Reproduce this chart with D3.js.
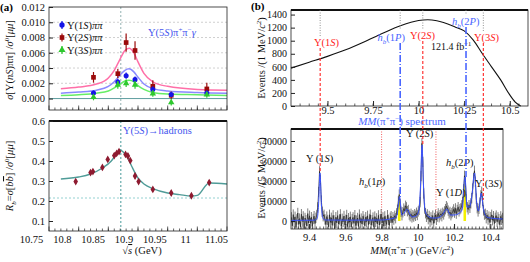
<!DOCTYPE html>
<html>
<head>
<meta charset="utf-8">
<script src="https://cdn.jsdelivr.net/npm/d3@7"></script>
<style>
  body { margin: 0; background: #fff; }
  text { font-family: "Liberation Serif", "DejaVu Serif", serif; }
</style>
</head>
<body>
<svg id="chart" width="530" height="262"></svg>
<script>
// ---- panel (a), top : sigma[Y(nS)pipi] / sigma0[mumu]
var scanE  = [10.825, 10.866, 10.880, 10.895, 10.925, 10.956, 11.016];
var sig1S  = [0.00074, 0.00217, 0.0030, 0.00248, 0.0012, 0.00052, 0.00074];
var err1S  = [0.0003, 0.0004, 0.0004, 0.0004, 0.0004, 0.0003, 0.0003];
var sig2S  = [0.00278, 0.00326, 0.00734, 0.0063, 0.0016, 0.00043, 0.00126];
var err2S  = [0.0007, 0.0006, 0.0012, 0.0012, 0.0008, 0.0005, 0.0008];
var sig3S  = [0.00017, 0.0018, 0.0020, 0.0018, 0.00065, -0.0005, 0.0005];
var err3S  = [0.0004, 0.0005, 0.0005, 0.0005, 0.0004, 0.0004, 0.0004];

var fitE   = [10.77, 10.80, 10.83, 10.85, 10.86, 10.87, 10.878, 10.885, 10.893, 10.90, 10.91, 10.925, 10.95, 11.0, 11.05];
var fit1S  = [0.0007, 0.00085, 0.0011, 0.0016, 0.0022, 0.0031, 0.0037, 0.0039, 0.0035, 0.0028, 0.0019, 0.0013, 0.0010, 0.0008, 0.0007];
var fit2S  = [0.0013, 0.0015, 0.0019, 0.0027, 0.0037, 0.0052, 0.0063, 0.0066, 0.0060, 0.0048, 0.0033, 0.0022, 0.0016, 0.0012, 0.0011];
var fit3S  = [0.0004, 0.0005, 0.0007, 0.0010, 0.0014, 0.0019, 0.0023, 0.0024, 0.0022, 0.0017, 0.0012, 0.0008, 0.0006, 0.0005, 0.0004];

// ---- panel (a), bottom : R_b
var rbE    = [10.795, 10.820, 10.824, 10.840, 10.849, 10.860, 10.864, 10.868, 10.879, 10.883, 10.887, 10.895, 10.901, 10.925, 10.956, 10.990, 11.020];
var rbVal  = [0.297, 0.342, 0.347, 0.368, 0.408, 0.427, 0.438, 0.447, 0.433, 0.425, 0.402, 0.325, 0.297, 0.258, 0.240, 0.226, 0.292];
var rbFitE = [10.77, 10.80, 10.82, 10.84, 10.855, 10.865, 10.870, 10.875, 10.883, 10.89, 10.90, 10.91, 10.925, 10.95, 10.97, 10.99, 11.0, 11.02, 11.05];
var rbFit  = [0.310, 0.320, 0.335, 0.365, 0.400, 0.440, 0.455, 0.445, 0.415, 0.370, 0.315, 0.285, 0.262, 0.240, 0.232, 0.225, 0.228, 0.290, 0.285];
var rbRef  = 0.215;
var peak5S = 10.871;

var aTicksX   = [10.75, 10.8, 10.85, 10.9, 10.95, 11, 11.05];
var aTicksTop = [0, 0.002, 0.004, 0.006, 0.008, 0.010, 0.012];
var aTicksBot = [0.1, 0.2, 0.3, 0.4, 0.5, 0.6];

// ---- panel (b), top : events / 1 MeV curve
var effM = [9.30, 9.40, 9.50, 9.60, 9.70, 9.80, 9.90, 10.00, 10.05, 10.10, 10.20, 10.25, 10.30, 10.35, 10.40, 10.45, 10.50, 10.53, 10.56];
var effN = [580, 670, 760, 860, 980, 1110, 1230, 1310, 1320, 1305, 1210, 1150, 1010, 800, 600, 400, 170, 60, 0];

// ---- panel (b), bottom : MM(pi+pi-) spectrum, 5 MeV bins from 9.30, in thousands
var binLo = 9.30, binW = 0.005, binErr = 2.6;
var spec = [
  1.8,-2.4,3.2,-0.6,2.1,-3.3,0.8,4.0,-1.7,1.2,-2.9,3.4,-0.2,2.3,-3.8,1.5,0.4,-2.5,3.7,-1.0,2.6,-1.1,1.9,-2.7,1.0,2.4,-1.3,1.6,
  3.0,6.8,14.5,24.8,20.5,10.2,4.6,2.4,3.1,0.8,
  -1.8,2.2,0.5,-2.9,3.1,-0.7,1.6,-2.2,2.8,0.3,-3.4,1.9,-0.9,2.7,-1.5,0.8,3.3,-2.6,1.1,-0.4,
  2.5,-1.9,0.6,3.0,-2.8,1.4,-0.6,2.1,-3.1,0.9,1.8,-1.2,2.9,-2.3,0.2,1.5,-2.7,3.2,-0.8,1.2,
  -1.6,2.4,0.7,-2.4,1.9,-0.3,2.6,-1.8,1.0,3.1,-2.1,0.4,1.7,-2.9,2.2,-0.5,1.3,-1.4,2.8,-2.0,
  0.9,3.4,-1.1,1.8,-2.6,2.3,0.1,-1.7,2.9,0.6,-2.2,1.6,2.4,-0.9,1.9,0.7,2.6,1.4,
  3.8,5.6,9.8,13.2,8.4,4.6,
  2.9,4.4,6.2,5.1,7.6,6.8,4.9,5.5,3.2,2.4,3.6,1.8,2.9,2.2,3.4,2.6,4.1,3.0,4.8,5.6,
  9.4,22.5,38.8,29.5,13.8,6.2,3.9,
  2.1,3.3,0.9,2.5,-0.6,1.8,0.4,2.7,-1.2,1.5,
  3.0,0.6,2.2,3.8,1.9,2.9,3.6,2.4,4.1,3.3,
  4.8,5.9,7.4,6.6,5.2,3.8,4.5,2.9,3.9,4.6,
  5.8,4.2,6.3,3.7,5.5,6.9,4.8,5.9,6.4,7.8,
  9.5,15.8,22.6,19.4,10.8,6.9,5.8,7.9,6.6,8.8,11.4,16.2,21.5,25.1,19.6,11.2,6.4,4.8,6.1,9.2,
  12.8,14.6,10.1,5.3,3.2,
  3.6,1.4,2.9,0.7,2.2,-0.8,1.9,3.1,0.4,2.4,-1.3,1.6,2.7,-0.4,1.8,0.9,-1.9,2.3,0.6,1.5
];
var fitM = [9.30, 9.43, 9.445, 9.452, 9.46, 9.468, 9.475, 9.49, 9.60, 9.80, 9.87, 9.885, 9.899, 9.912, 9.925, 9.94, 9.955, 9.97, 9.99, 10.005, 10.015, 10.023, 10.031, 10.04, 10.055, 10.08, 10.10, 10.13, 10.16, 10.18, 10.20, 10.23, 10.245, 10.26, 10.272, 10.285, 10.30, 10.313, 10.325, 10.335, 10.35, 10.362, 10.38, 10.40, 10.47];
var fitN = [0.3, 0.4, 1.5, 8, 24, 8, 1.5, 0.5, 0.4, 0.5, 1.5, 3, 12, 3, 4, 6, 3.5, 2, 2.5, 5, 18, 38, 18, 5, 2.5, 1.5, 1.5, 2.5, 6, 3, 3, 4, 6, 22, 7, 7, 14, 24, 9, 5, 14, 6, 2, 1.5, 1];
var hbBands = [[9.890, 9.905], [10.252, 10.266]];

// states marked on panel (b)
var states = [
  { name: "Y1S",  m: 9.460,  kind: "Y" },
  { name: "hb1P", m: 9.899,  kind: "h" },
  { name: "Y2S",  m: 10.023, kind: "Y" },
  { name: "hb2P", m: 10.260, kind: "h" },
  { name: "Y3S",  m: 10.355, kind: "Y" }
];
var dotLines = [9.80, 10.10];

var bTicksTopX = [9.5, 9.75, 10, 10.25, 10.5];
var bTicksTopY = [0, 200, 400, 600, 800, 1000, 1200, 1400];
var bTicksBotX = [9.4, 9.6, 9.8, 10, 10.2, 10.4];
var bTicksBotY = [0, 10000, 20000, 30000, 40000];

// ------------------------------------------------------------------
var svg = d3.select("#chart");
var frameCol = "#222";

var xa   = d3.scaleLinear().domain([10.75, 11.05]).range([49, 227]);
var xaLab = d3.scaleLinear().domain([10.75, 11.05]).range([31, 216]);  // labels sit left of the frame in the original
var yTop = d3.scaleLinear().domain([-0.0015, 0.012]).range([110, 7]);
var yBot = d3.scaleLinear().domain([0.05, 0.6]).range([231, 121]);

var xbT = d3.scaleLinear().domain([9.3, 10.6]).range([291, 528]);
var ybT = d3.scaleLinear().domain([0, 1470]).range([106, 10]);
var xbB = d3.scaleLinear().domain([9.3, 10.47]).range([291, 503]);
var ybB = d3.scaleLinear().domain([-4, 46]).range([229, 129]);   // thousands

svg.append("defs").append("clipPath").attr("id", "clipD")
  .append("rect").attr("x", 291).attr("y", 129).attr("width", 212).attr("height", 100);

function frame(g, x0, x1, y0, y1, thickTop) {
  g.append("rect").attr("x", x0).attr("y", y0).attr("width", x1 - x0).attr("height", y1 - y0)
    .attr("fill", "none").attr("stroke", frameCol).attr("stroke-width", 0.8);
  if (thickTop) {
    g.append("line").attr("x1", x0).attr("x2", x1).attr("y1", y0).attr("y2", y0)
      .attr("stroke", "#111").attr("stroke-width", 2);
  }
}

function minorX(g, scale, lo, hi, step, y, len) {
  d3.range(lo, hi + step / 2, step).forEach(function(v) {
    g.append("line").attr("x1", scale(v)).attr("x2", scale(v))
      .attr("y1", y).attr("y2", y - len).attr("stroke", frameCol).attr("stroke-width", 0.7);
  });
}

function yAxis(g, scale, x, ticks, fmt, size) {
  var ax = g.append("g").attr("transform", "translate(" + x + ",0)")
    .call(d3.axisLeft(scale).tickValues(ticks).tickFormat(fmt).tickSize(-4).tickPadding(4));
  ax.select(".domain").remove();
  ax.selectAll("line").attr("stroke", frameCol);
  ax.selectAll("text").style("font-size", size + "px").attr("fill", "#111");
}

function xAxisLabels(g, scale, y, ticks, fmt, size, pad) {
  var ax = g.append("g").attr("transform", "translate(0," + y + ")")
    .call(d3.axisBottom(scale).tickValues(ticks).tickFormat(fmt).tickSize(-5).tickPadding(pad));
  ax.select(".domain").remove();
  ax.selectAll("line").attr("stroke", frameCol);
  ax.selectAll("text").style("font-size", size + "px").attr("fill", "#111");
  return ax;
}

// ================= panel (a) top =================
var gA = svg.append("g");

aTicksTop.slice(1, 6).forEach(function(v) {
  gA.append("line").attr("x1", xa.range()[0]).attr("x2", xa.range()[1])
    .attr("y1", yTop(v)).attr("y2", yTop(v))
    .attr("stroke", "#bbb").attr("stroke-width", 0.7).attr("stroke-dasharray", "2,2");
});
gA.append("line").attr("x1", xa(peak5S)).attr("x2", xa(peak5S)).attr("y1", yTop.range()[1]).attr("y2", yTop.range()[0])
  .attr("stroke", "#8aa").attr("stroke-width", 0.9).attr("stroke-dasharray", "2,2");
gA.append("line").attr("x1", xa.range()[0]).attr("x2", xa.range()[1]).attr("y1", yTop(0)).attr("y2", yTop(0))
  .attr("stroke", "#5f9ea0").attr("stroke-width", 1);

var fitLine = d3.line().curve(d3.curveMonotoneX);
[[fit2S, "#ff6fa8"], [fit1S, "#8a8aff"], [fit3S, "#66ee66"]].forEach(function(f) {
  gA.append("path")
    .attr("d", fitLine(fitE.map(function(e, i) { return [xa(e), yTop(f[0][i])]; })))
    .attr("fill", "none").attr("stroke", f[1]).attr("stroke-width", 1.5);
});

var sets = [
  { v: sig2S, e: err2S, col: "#9b0a0a", sym: d3.symbolSquare, size: 22 },
  { v: sig1S, e: err1S, col: "#1414e6", sym: d3.symbolCircle, size: 20 },
  { v: sig3S, e: err3S, col: "#2ec82e", sym: d3.symbolTriangle, size: 18 }
];
sets.forEach(function(s) {
  scanE.forEach(function(E, i) {
    gA.append("line").attr("x1", xa(E)).attr("x2", xa(E))
      .attr("y1", yTop(s.v[i] - s.e[i])).attr("y2", yTop(s.v[i] + s.e[i]))
      .attr("stroke", s.col).attr("stroke-width", 1.2);
    gA.append("path").attr("d", d3.symbol().type(s.sym).size(s.size)())
      .attr("transform", "translate(" + xa(E) + "," + yTop(s.v[i]) + ")")
      .attr("fill", s.col);
  });
});

frame(gA, 49, 227, 7, 110, false);
yAxis(gA, yTop, 49, aTicksTop, d3.format(".3f"), 10.5);
minorX(gA, xa, 10.76, 11.04, 0.01, 110, 2.5);
minorX(gA, xa, 10.75, 11.05, 0.05, 110, 4.5);

// legend
var legend = [
  { t: "1", col: "#1414e6", sym: d3.symbolCircle },
  { t: "2", col: "#9b0a0a", sym: d3.symbolSquare },
  { t: "3", col: "#2ec82e", sym: d3.symbolTriangle }
];
legend.forEach(function(l, i) {
  var ly = 25 + i * 12.5;
  gA.append("line").attr("x1", 62).attr("x2", 62).attr("y1", ly - 4).attr("y2", ly + 4)
    .attr("stroke", l.col).attr("stroke-width", 1.2);
  gA.append("path").attr("d", d3.symbol().type(l.sym).size(22)())
    .attr("transform", "translate(62," + ly + ")").attr("fill", l.col);
  var t = gA.append("text").attr("x", 67).attr("y", ly + 3.5).style("font-size", "10.5px").attr("fill", "#111");
  t.append("tspan").text("Υ(" + l.t);
  t.append("tspan").style("font-style", "italic").text("S");
  t.append("tspan").text(")");
  t.append("tspan").style("font-style", "italic").text("ππ");
});

var t5 = gA.append("text").attr("x", 148).attr("y", 36).style("font-size", "10.5px").attr("fill", "#4455ee");
t5.append("tspan").text("Υ(5");
t5.append("tspan").style("font-style", "italic").text("S");
t5.append("tspan").text(")π");
t5.append("tspan").attr("dy", -4).style("font-size", "7px").text("+");
t5.append("tspan").attr("dy", 4).text("π");
t5.append("tspan").attr("dy", -4).style("font-size", "7px").text("−");
t5.append("tspan").attr("dy", 4).style("font-style", "italic").text("γ");

var yt1 = gA.append("text").attr("transform", "translate(13,60) rotate(-90)")
  .attr("text-anchor", "middle").style("font-size", "10.5px").attr("fill", "#111");
yt1.append("tspan").style("font-style", "italic").text("σ");
yt1.append("tspan").text("[Υ(");
yt1.append("tspan").style("font-style", "italic").text("nS");
yt1.append("tspan").text(")ππ] /");
yt1.append("tspan").style("font-style", "italic").text("σ");
yt1.append("tspan").attr("dy", -4).style("font-size", "7px").text("0");
yt1.append("tspan").attr("dy", 4).text("[");
yt1.append("tspan").style("font-style", "italic").text("μμ");
yt1.append("tspan").text("]");

svg.append("text").attr("x", 0).attr("y", 11).style("font-size", "11px").style("font-weight", "bold").text("(a)");

// ================= panel (a) bottom =================
var gB = svg.append("g");
gB.append("line").attr("x1", xa.range()[0]).attr("x2", xa.range()[1]).attr("y1", yBot(rbRef)).attr("y2", yBot(rbRef))
  .attr("stroke", "#8cc").attr("stroke-width", 0.9).attr("stroke-dasharray", "2,2");
gB.append("line").attr("x1", xa(peak5S)).attr("x2", xa(peak5S)).attr("y1", yBot.range()[1]).attr("y2", yBot.range()[0])
  .attr("stroke", "#6aa").attr("stroke-width", 1.2).attr("stroke-dasharray", "2,2");

gB.append("path")
  .attr("d", fitLine(rbFitE.map(function(e, i) { return [xa(e), yBot(rbFit[i])]; })))
  .attr("fill", "none").attr("stroke", "#4f9c98").attr("stroke-width", 1.4);

rbE.forEach(function(E, i) {
  gB.append("line").attr("x1", xa(E)).attr("x2", xa(E))
    .attr("y1", yBot(rbVal[i] - 0.012)).attr("y2", yBot(rbVal[i] + 0.012))
    .attr("stroke", "#9a2233").attr("stroke-width", 1.1);
  gB.append("path").attr("d", d3.symbol().type(d3.symbolDiamond).size(18)())
    .attr("transform", "translate(" + xa(E) + "," + yBot(rbVal[i]) + ")")
    .attr("fill", "#8e1a30");
});

frame(gB, 49, 227, 121, 231, true);
yAxis(gB, yBot, 49, aTicksBot, d3.format(".1f"), 10.5);
minorX(gB, xa, 10.76, 11.04, 0.01, 231, 2.5);
minorX(gB, xa, 10.75, 11.05, 0.05, 231, 4.5);
// tick labels drawn on their own (offset) scale
var axLab = gB.append("g").attr("transform", "translate(0,231)")
  .call(d3.axisBottom(xaLab).tickValues(aTicksX).tickFormat(d3.format("")).tickSize(0).tickPadding(5));
axLab.select(".domain").remove();
axLab.selectAll("text").style("font-size", "10.5px").attr("fill", "#111");

var th = gB.append("text").attr("x", 123).attr("y", 134).style("font-size", "10.5px").attr("fill", "#4455ee");
th.append("tspan").text("Υ(5");
th.append("tspan").style("font-style", "italic").text("S");
th.append("tspan").text(")→hadrons");

var yt2 = gB.append("text").attr("transform", "translate(13,176) rotate(-90)")
  .attr("text-anchor", "middle").style("font-size", "10.5px").attr("fill", "#111");
yt2.append("tspan").style("font-style", "italic").text("R");
yt2.append("tspan").attr("dy", 3).style("font-size", "7px").style("font-style", "italic").text("b");
yt2.append("tspan").attr("dy", -3).text("=");
yt2.append("tspan").style("font-style", "italic").text("σ");
yt2.append("tspan").text("[");
yt2.append("tspan").style("font-style", "italic").text("b");
yt2.append("tspan").style("font-style", "italic").style("text-decoration", "overline").text("b");
yt2.append("tspan").text("] /");
yt2.append("tspan").style("font-style", "italic").text("σ");
yt2.append("tspan").attr("dy", -4).style("font-size", "7px").text("0");
yt2.append("tspan").attr("dy", 4).text("[");
yt2.append("tspan").style("font-style", "italic").text("μμ");
yt2.append("tspan").text("]");

var xt = gB.append("text").attr("x", 142).attr("y", 254).attr("text-anchor", "middle")
  .style("font-size", "10.5px").attr("fill", "#111");
xt.append("tspan").text("√");
xt.append("tspan").style("font-style", "italic").style("text-decoration", "overline").text("s");
xt.append("tspan").text(" (GeV)");

// ================= panel (b) top =================
var gC = svg.append("g");
svg.append("text").attr("x", 251).attr("y", 10).style("font-size", "11px").style("font-weight", "bold").text("(b)");

gC.append("path")
  .attr("d", d3.line().curve(d3.curveMonotoneX)(effM.map(function(m, i) { return [xbT(m), ybT(effN[i])]; })))
  .attr("fill", "none").attr("stroke", "#111").attr("stroke-width", 1.1);

frame(gC, 291, 528, 10, 106, true);
yAxis(gC, ybT, 291, bTicksTopY, d3.format(""), 10);
minorX(gC, xbT, 9.35, 10.55, 0.05, 106, 2.5);
xAxisLabels(gC, xbT, 106, bTicksTopX, d3.format(""), 10.5, 1);

var yt3 = gC.append("text").attr("transform", "translate(265,58) rotate(-90)")
  .attr("text-anchor", "middle").style("font-size", "10.5px").attr("fill", "#111");
yt3.append("tspan").text("Events /(1 MeV/");
yt3.append("tspan").style("font-style", "italic").text("c");
yt3.append("tspan").attr("dy", -4).style("font-size", "7px").text("2");
yt3.append("tspan").attr("dy", 4).text(")");

// ================= panel (b) bottom =================
var gD = svg.append("g");
var gDc = gD.append("g").attr("clip-path", "url(#clipD)");

dotLines.forEach(function(m) {
  gDc.append("line").attr("x1", xbB(m)).attr("x2", xbB(m)).attr("y1", 129).attr("y2", ybB(0))
    .attr("stroke", "#e33").attr("stroke-width", 0.8).attr("stroke-dasharray", "1,1.5");
});

var fitPts = fitM.map(function(m, i) { return [m, fitN[i]]; });
function fitAt(m) {
  for (var i = 1; i < fitPts.length; i++) {
    if (m <= fitPts[i][0]) {
      var a = fitPts[i - 1], b = fitPts[i];
      return a[1] + (b[1] - a[1]) * (m - a[0]) / (b[0] - a[0]);
    }
  }
  return fitPts[fitPts.length - 1][1];
}

// yellow h_b bands under the fit
hbBands.forEach(function(b) {
  var pts = d3.range(b[0], b[1] + 0.0005, 0.001).map(function(m) { return [m, fitAt(m)]; });
  gDc.append("path")
    .attr("d", d3.area().x(function(d) { return xbB(d[0]); }).y0(ybB(0)).y1(function(d) { return ybB(d[1]); })(pts))
    .attr("fill", "#f4f000");
});

// histogram with error bars
spec.forEach(function(v, i) {
  var m = binLo + binW * (i + 0.5);
  gDc.append("line").attr("x1", xbB(m)).attr("x2", xbB(m))
    .attr("y1", ybB(v - binErr)).attr("y2", ybB(v + binErr))
    .attr("stroke", "#707070").attr("stroke-width", 0.9);
});
gDc.append("path")
  .attr("d", d3.line()(spec.map(function(v, i) { return [xbB(binLo + binW * (i + 0.5)), ybB(v)]; })))
  .attr("fill", "none").attr("stroke", "#222").attr("stroke-width", 0.7);

gDc.append("path")
  .attr("d", d3.line().curve(d3.curveMonotoneX)(fitPts.map(function(p) { return [xbB(p[0]), ybB(p[1])]; })))
  .attr("fill", "none").attr("stroke", "#3a52ff").attr("stroke-width", 1);

frame(gD, 291, 503, 129, 229, true);
yAxis(gD, ybB, 291, bTicksBotY.map(function(v) { return v / 1000; }), function(d) { return d * 1000; }, 10);
minorX(gD, xbB, 9.32, 10.46, 0.02, 229, 2.5);
xAxisLabels(gD, xbB, 229, bTicksBotX, d3.format(""), 10.5, 5);

var yt4 = gD.append("text").attr("transform", "translate(265,178) rotate(-90)")
  .attr("text-anchor", "middle").style("font-size", "10.5px").attr("fill", "#111");
yt4.append("tspan").text("Events /(5 MeV/");
yt4.append("tspan").style("font-style", "italic").text("c");
yt4.append("tspan").attr("dy", -4).style("font-size", "7px").text("2");
yt4.append("tspan").attr("dy", 4).text(")");

var xt2 = gD.append("text").attr("x", 412).attr("y", 254).attr("text-anchor", "middle")
  .style("font-size", "10.5px").attr("fill", "#111");
xt2.append("tspan").style("font-style", "italic").text("MM");
xt2.append("tspan").text("(π");
xt2.append("tspan").attr("dy", -4).style("font-size", "7px").text("+");
xt2.append("tspan").attr("dy", 4).text("π");
xt2.append("tspan").attr("dy", -4).style("font-size", "7px").text("−");
xt2.append("tspan").attr("dy", 4).text(") (GeV/");
xt2.append("tspan").style("font-style", "italic").text("c");
xt2.append("tspan").attr("dy", -4).style("font-size", "7px").text("2");
xt2.append("tspan").attr("dy", 4).text(")");

// ---- vertical state markers spanning both (b) panels
var topLab = {
  Y1S:  { x: 314, y: 46, anchor: "start",  lo: 36 },
  hb1P: { x: 405, y: 41, anchor: "end",    lo: 30 },
  Y2S:  { x: 410, y: 39, anchor: "start",  lo: 29 },
  hb2P: { x: 452, y: 25, anchor: "start",  lo: 15 },
  Y3S:  { x: 474, y: 41, anchor: "start",  lo: 31 }
};
var botLab = {
  Y1S:  { x: 306, y: 162, txt: ["Υ (1", "S", ")"] },
  hb1P: { x: 359, y: 185, txt: null },
  Y2S:  { x: 406, y: 137, txt: ["Υ (2", "S", ")"] },
  hb2P: { x: 446, y: 166, txt: null },
  Y3S:  { x: 475, y: 187, txt: ["Υ (3", "S", ")"] }
};
states.forEach(function(s) {
  var L = topLab[s.name];
  var x = xbT(s.m);
  var col = s.kind === "Y" ? "#f22" : "#4a66ff";
  gC.append("line").attr("x1", x).attr("x2", x).attr("y1", 10).attr("y2", L.lo)
    .attr("stroke", "#777").attr("stroke-width", 0.8).attr("stroke-dasharray", "1,1.5");
  svg.append("line").attr("x1", x).attr("x2", x).attr("y1", L.y + 2).attr("y2", ybB(fitAt(s.m)))
    .attr("stroke", col).attr("stroke-width", s.kind === "Y" ? 1.1 : 1.6)
    .attr("stroke-dasharray", s.kind === "Y" ? "3,2" : "7,2,1,2");

  var t = gC.append("text").attr("x", L.x).attr("y", L.y).attr("text-anchor", L.anchor)
    .style("font-size", "10.5px").attr("fill", col);
  if (s.kind === "Y") {
    t.append("tspan").text("Υ(" + s.name.charAt(1));
    t.append("tspan").style("font-style", "italic").text("S");
    t.append("tspan").text(")");
  } else {
    t.append("tspan").style("font-style", "italic").text("h");
    t.append("tspan").attr("dy", 3).style("font-size", "7px").style("font-style", "italic").text("b");
    t.append("tspan").attr("dy", -3).text("(" + s.name.charAt(2));
    t.append("tspan").style("font-style", "italic").text("P");
    t.append("tspan").text(")");
  }

  var B = botLab[s.name];
  var tb = gD.append("text").attr("x", B.x).attr("y", B.y).style("font-size", "10.5px").attr("fill", "#111");
  if (B.txt) {
    tb.append("tspan").text(B.txt[0]);
    tb.append("tspan").style("font-style", "italic").text(B.txt[1]);
    tb.append("tspan").text(B.txt[2]);
  } else {
    tb.append("tspan").style("font-style", "italic").text("h");
    tb.append("tspan").attr("dy", 3).style("font-size", "7px").style("font-style", "italic").text("b");
    tb.append("tspan").attr("dy", -3).text("(" + s.name.charAt(2));
    tb.append("tspan").style("font-style", "italic").text(s.name === "hb1P" ? "p" : "P");
    tb.append("tspan").text(")");
  }
});

var t1D = gD.append("text").attr("x", 436).attr("y", 196).style("font-size", "10.5px").attr("fill", "#111");
t1D.append("tspan").text("Υ (1");
t1D.append("tspan").style("font-style", "italic").text("D");
t1D.append("tspan").text(")");

var lum = gC.append("text").attr("x", 431).attr("y", 50).style("font-size", "10px").attr("fill", "#111");
lum.append("tspan").text("121.4 fb");
lum.append("tspan").attr("dy", -4).style("font-size", "6.5px").text("−1");

var mm = svg.append("text").attr("x", 402).attr("y", 125).attr("text-anchor", "middle")
  .style("font-size", "11px").style("font-style", "italic").attr("fill", "#4a66ff");
mm.append("tspan").text("MM");
mm.append("tspan").style("font-style", "normal").text("(π");
mm.append("tspan").attr("dy", -4).style("font-size", "7px").style("font-style", "normal").text("+");
mm.append("tspan").attr("dy", 4).style("font-style", "normal").text("π");
mm.append("tspan").attr("dy", -4).style("font-size", "7px").style("font-style", "normal").text("−");
mm.append("tspan").attr("dy", 4).style("font-style", "normal").text(") spectrum");
</script>
</body>
</html>
